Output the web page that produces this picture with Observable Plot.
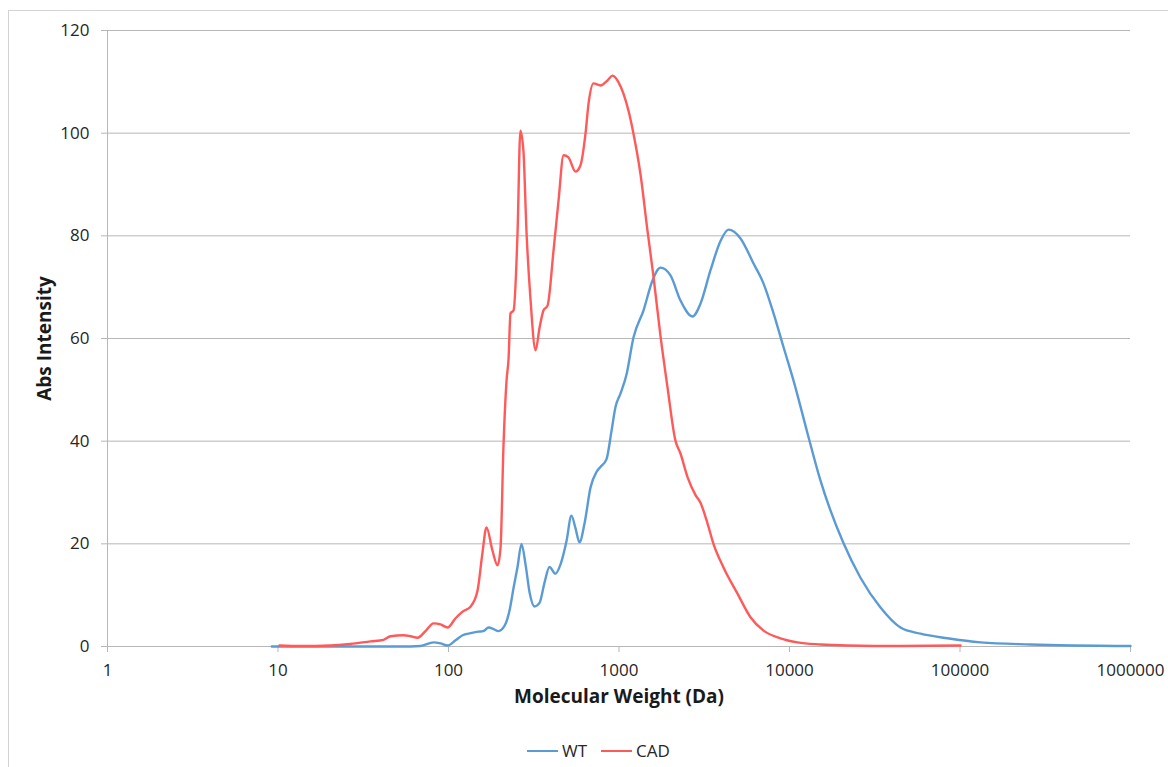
<!DOCTYPE html>
<html><head><meta charset="utf-8">
<script src="https://cdn.jsdelivr.net/npm/d3@7"></script>
<script src="https://cdn.jsdelivr.net/npm/@observablehq/plot@0.6"></script>
<style>
html,body{margin:0;padding:0;background:#fff;}
#wrap{position:relative;width:1168px;height:767px;overflow:hidden;font-family:"Open Sans",sans-serif;}
#border{position:absolute;left:8px;top:10px;width:1200px;height:800px;border:1px solid #d4d4d4;box-sizing:border-box;}
#chart{position:absolute;left:0;top:0;}
#legend{position:absolute;top:739px;left:527px;display:flex;align-items:center;font-size:17px;color:#262626;white-space:nowrap;}
#legend .sw{display:inline-block;width:31px;height:0;border-top:2.5px solid;margin-right:4px;}
#legend .item{display:flex;align-items:center;margin-right:14px;}
</style>
</head><body>
<div id="wrap"><div id="border"></div><div id="chart"></div><div id="legend"></div></div>
<script>
const seriesNames = ["WT", "CAD"];
const seriesColors = ["#5b9bd5", "#ff5a5a"];
const xTicks = [1, 10, 100, 1000, 10000, 100000, 1000000];
const yTicks = [0, 20, 40, 60, 80, 100, 120];

const wtMW  = [9.2, 26.6, 52, 68.5, 81.7, 89.8, 98.7, 110, 121, 135, 150, 160, 172, 184, 196, 213, 228, 241, 254, 268, 283, 299, 319, 342, 366, 391, 424, 454, 492, 526, 556, 586, 628, 681, 738, 780, 845, 904, 953, 1021, 1107, 1216, 1393, 1572, 1751, 2004, 2294, 2699, 3006, 3441, 3939, 4388, 5160, 6152, 7044, 8063, 9230, 10560, 12760, 15200, 20750, 26080, 34180, 44770, 58640, 84460, 131900, 259000, 1000000];
const wtAbs = [0, 0, 0, 0.1, 0.8, 0.6, 0.2, 1.2, 2.2, 2.6, 2.9, 3.0, 3.7, 3.4, 3.0, 4.0, 7, 11.5, 15.5, 20, 16, 10.5, 7.8, 8.5, 12.5, 15.5, 14.2, 16, 20.5, 25.5, 23, 20.3, 24, 31, 34, 35, 36.5, 42, 46.6, 49.3, 53, 60.2, 65.5, 71.3, 73.8, 72.3, 67.4, 64.3, 66.8, 73.3, 79, 81.2, 79.5, 74.6, 70.7, 64.9, 58.3, 51.8, 41.5, 32.3, 20.1, 13.4, 7.6, 3.7, 2.5, 1.6, 0.8, 0.4, 0.1];

const cadMW  = [10.2, 13.5, 20.3, 26.6, 34.9, 41.6, 45.7, 54.5, 59.9, 65.8, 73.3, 81.7, 89.8, 98.7, 110, 121, 135, 148, 158, 167, 181, 194, 202, 210, 219, 225, 231, 241, 254, 264, 275, 287, 303, 324, 342, 361, 381, 413, 442, 473, 505, 556, 594, 636, 663, 709, 780, 857, 917, 994, 1062, 1136, 1216, 1337, 1469, 1594, 1751, 1925, 2143, 2294, 2523, 2811, 3006, 3304, 3581, 4101, 4955, 5904, 7044, 8851, 11140, 15200, 21880, 44770, 100700];
const cadAbs = [0.2, 0.1, 0.2, 0.5, 1.0, 1.3, 2.0, 2.2, 2.0, 1.7, 3.0, 4.5, 4.3, 3.7, 5.5, 6.8, 7.8, 10.9, 18.1, 23.2, 18.7, 15.8, 19.3, 38.8, 51.8, 56, 64.9, 65.5, 80.5, 100.5, 96.6, 80.5, 67.4, 57.7, 62.1, 65.5, 66.4, 77.1, 86.9, 95.7, 95.3, 92.5, 93.7, 99.9, 105.8, 109.7, 109.3, 110.3, 111.2, 109.9, 107.7, 104.4, 99.9, 92, 81, 72, 60.5, 50.5, 40.1, 37.6, 33, 29.5, 28, 24, 20, 15.4, 10.3, 5.7, 3.1, 1.6, 0.8, 0.4, 0.2, 0.1, 0.2];

const wt = wtMW.map((m, i) => ({mw: m, abs: wtAbs[i]}));
const cad = cadMW.map((m, i) => ({mw: m, abs: cadAbs[i]}));

const grid = "#b7b7b7";
const chart = Plot.plot({
  width: 1168, height: 725,
  marginLeft: 107, marginRight: 38, marginTop: 30, marginBottom: 79,
  style: {fontFamily: "Open Sans, sans-serif", fontSize: "17px", color: "#262626", background: "transparent", overflow: "visible"},
  x: {type: "log", domain: [1, 1000000]},
  y: {domain: [0, 120]},
  marks: [
    Plot.ruleY(yTicks, {stroke: grid, strokeWidth: 1}),
    Plot.ruleX([1], {stroke: grid, strokeWidth: 1}),
    Plot.axisY({ticks: yTicks, tickSize: 6, tickPadding: 12, stroke: grid, fill: "#262626", label: null, tickFormat: d => String(d)}),
    Plot.axisX({ticks: xTicks, tickSize: 6, tickPadding: 11, stroke: grid, fill: "#262626", label: null, tickFormat: d => String(d)}),
    Plot.line(wt, {x: "mw", y: "abs", stroke: seriesColors[0], strokeWidth: 2.4, curve: "monotone-x"}),
    Plot.line(cad, {x: "mw", y: "abs", stroke: seriesColors[1], strokeWidth: 2.4, curve: "monotone-x"}),
    Plot.text(["Molecular Weight (Da)"], {frameAnchor: "bottom", textAnchor: "middle", dy: 56, fontWeight: "bold", fontSize: 19, fill: "#1a1a1a"}),
    Plot.text(["Abs Intensity"], {frameAnchor: "left", textAnchor: "middle", dx: -63, rotate: -90, fontWeight: "bold", fontSize: 19, fill: "#1a1a1a"})
  ]
});
document.getElementById("chart").appendChild(chart);

const legend = document.getElementById("legend");
seriesNames.forEach((n, i) => {
  const it = document.createElement("span");
  it.className = "item";
  const sw = document.createElement("span");
  sw.className = "sw";
  sw.style.borderTopColor = seriesColors[i];
  it.appendChild(sw);
  it.appendChild(document.createTextNode(n));
  legend.appendChild(it);
});
</script>
</body></html>
